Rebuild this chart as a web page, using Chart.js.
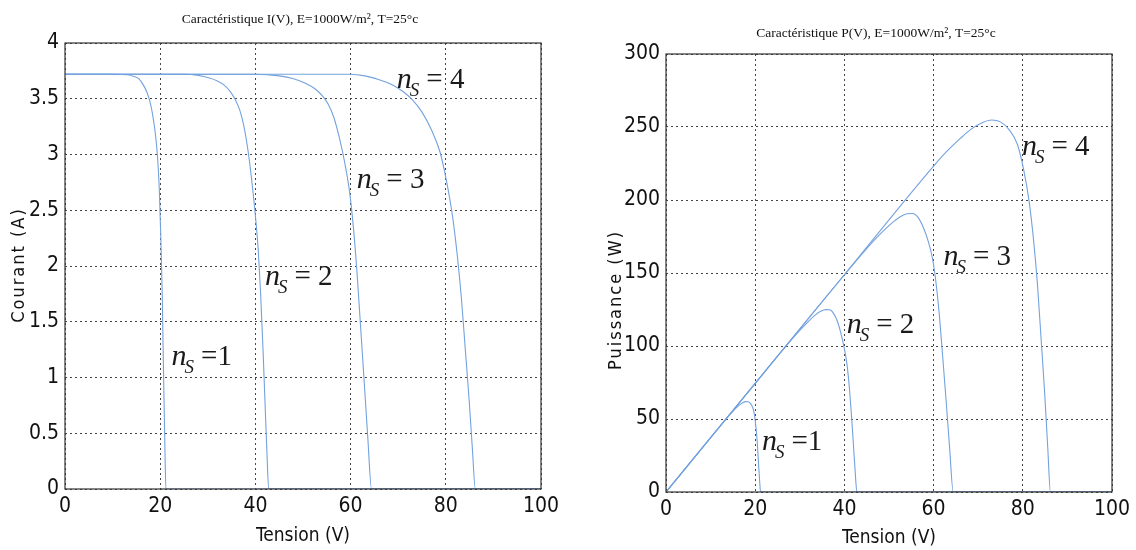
<!DOCTYPE html>
<html>
<head>
<meta charset="utf-8">
<script src="https://cdn.jsdelivr.net/npm/chart.js@4.4.1/dist/chart.umd.min.js"></script>
<style>
  html, body { margin: 0; padding: 0; background: #fff; }
  .panneau { position: absolute; top: 0; width: 568px; height: 550px; }
  #panneauIV { left: 0; }
  #panneauPV { left: 568px; }
</style>
</head>
<body>
<div class="panneau" id="panneauIV"><canvas id="courbeIV" width="568" height="550"></canvas></div>
<div class="panneau" id="panneauPV"><canvas id="courbePV" width="568" height="550"></canvas></div>
<script>
// I(V) : [tension (V), courant (A)] pour 1 à 4 panneaux en série
const ivNs1 = [[0, 3.72], [10, 3.72], [13, 3.715], [14.5, 3.70], [15.5, 3.68], [16.5, 3.62], [17.2, 3.56], [17.8, 3.48], [18.4, 3.36], [19, 3.18], [19.4, 3.0], [19.8, 2.7], [20.1, 2.3], [20.4, 1.8], [20.6, 1.3], [20.8, 0.8], [21, 0.35], [21.2, 0], [100, 0]];
const ivNs2 = [[0, 3.72], [25, 3.72], [28, 3.71], [30, 3.69], [32, 3.66], [33.5, 3.62], [34.8, 3.56], [35.8, 3.49], [36.7, 3.40], [37.6, 3.25], [38.5, 3.02], [39.3, 2.74], [40, 2.45], [40.6, 2.14], [41.1, 1.75], [41.6, 1.25], [42, 0.8], [42.4, 0.35], [42.8, 0], [100, 0]];
const ivNs3 = [[0, 3.72], [40, 3.72], [45, 3.705], [48, 3.68], [50.5, 3.64], [52.5, 3.59], [54, 3.53], [55.3, 3.45], [56.5, 3.33], [57.7, 3.14], [58.8, 2.92], [59.8, 2.66], [60.6, 2.34], [61.3, 1.97], [62, 1.52], [62.8, 1.0], [63.6, 0.47], [64.4, 0], [100, 0]];
const ivNs4 = [[0, 3.72], [60, 3.72], [63, 3.705], [66, 3.67], [68.5, 3.63], [71, 3.565], [73, 3.49], [75, 3.38], [77, 3.22], [78.8, 3.02], [80.2, 2.75], [81.4, 2.45], [82.4, 2.1], [83.3, 1.7], [84.1, 1.25], [84.9, 0.8], [85.6, 0.35], [86.2, 0], [100, 0]];

// P(V) : [tension (V), puissance (W)]
const pvNs1 = [[0, 0], [10, 37.2], [13, 48.3], [14.5, 53.7], [15.5, 57], [16.5, 59.7], [17.2, 61.2], [17.8, 61.9], [18.4, 61.8], [19, 60.4], [19.4, 58.2], [19.8, 53.5], [20.1, 46.2], [20.4, 36.7], [20.6, 26.8], [20.8, 16.6], [21, 7.4], [21.2, 0], [100, 0]];
const pvNs2 = [[0, 0], [20, 74.4], [25, 93], [28, 103.9], [30, 110.7], [32, 117.1], [33.5, 121.3], [34.8, 123.9], [35.8, 124.9], [36.7, 124.8], [37.6, 122.2], [38.5, 116.3], [39.3, 107.7], [40, 98], [40.6, 86.9], [41.1, 71.9], [41.6, 52], [42, 33.6], [42.4, 14.8], [42.8, 0], [100, 0]];
const pvNs3 = [[0, 0], [20, 74.4], [40, 148.8], [45, 166.7], [48, 176.6], [50.5, 183.8], [52.5, 188.5], [54, 190.6], [55.3, 190.8], [56.5, 188.1], [57.7, 181.2], [58.8, 171.7], [59.8, 159.1], [60.6, 141.8], [61.3, 120.8], [62, 94.2], [62.8, 62.8], [63.6, 29.9], [64.4, 0], [100, 0]];
const pvNs4 = [[0, 0], [20, 74.4], [40, 148.8], [60, 223.2], [63, 233.4], [66, 242.2], [68.5, 248.7], [71, 253.1], [73, 254.8], [75, 253.5], [77, 247.9], [78.8, 238], [80.2, 220.6], [81.4, 199.4], [82.4, 173], [83.3, 141.6], [84.1, 105], [84.9, 68], [85.6, 30], [86.2, 0], [100, 0]];

// position des étiquettes n_S (coin bas-gauche du "n", en coordonnées des axes)
const etiquettesIV = [
  { x: 69.7, y: 3.6, texte: '= 4' },
  { x: 61.3, y: 2.70, texte: '= 3' },
  { x: 42.0, y: 1.83, texte: '= 2' },
  { x: 22.4, y: 1.11, texte: '=1' }
];
const etiquettesPV = [
  { x: 79.8, y: 230.8, texte: '= 4' },
  { x: 62.2, y: 155.5, texte: '= 3' },
  { x: 40.5, y: 108.7, texte: '= 2' },
  { x: 21.5, y: 28.8, texte: '=1' }
];

const xTicks = [0, 20, 40, 60, 80, 100];
const bleu = '#74a2de';
const policeTicks = '"Liberation Sans Narrow", "DejaVu Sans Condensed", Arial, sans-serif';
const policeSerif = '"Liberation Serif", "Times New Roman", serif';

const toPoints = arr => arr.map(([x, y]) => ({ x, y }));

// cadre plein + titre + titre de l'axe Y + étiquettes n_S
const decor = {
  id: 'decor',
  afterDatasetsDraw(chart, args, opts) {
    const { ctx, scales: { x, y } } = chart;
    ctx.save();
    ctx.fillStyle = '#1a1a1a';
    opts.etiquettes.forEach(it => {
      let px = x.getPixelForValue(it.x);
      const py = y.getPixelForValue(it.y);
      ctx.textAlign = 'left';
      ctx.textBaseline = 'alphabetic';
      ctx.font = 'italic 30px ' + policeSerif;
      ctx.fillText('n', px, py);
      px += ctx.measureText('n').width - 2;
      ctx.font = 'italic 19px ' + policeSerif;
      ctx.fillText('S', px, py + 8);
      px += ctx.measureText('S').width + 7;
      ctx.font = '29px ' + policeSerif;
      ctx.fillText(it.texte, px, py);
    });
    ctx.restore();
  },
  afterDraw(chart, args, opts) {
    const { ctx, chartArea: a } = chart;
    ctx.save();
    ctx.strokeStyle = '#333';
    ctx.lineWidth = 1.2;
    ctx.strokeRect(a.left, a.top, a.right - a.left, a.bottom - a.top);

    ctx.fillStyle = '#111';
    ctx.textAlign = 'center';
    ctx.textBaseline = 'middle';
    ctx.font = '13.5px ' + policeSerif;
    ctx.fillText(opts.titre, opts.titreX, opts.titreY);

    ctx.translate(opts.axeYX, opts.axeYY);
    ctx.rotate(-Math.PI / 2);
    ctx.letterSpacing = '2px';
    ctx.font = '18px ' + policeTicks;
    ctx.fillText(opts.axeY, 0, 0);
    ctx.restore();
  }
};

function makeChart(id, series, cfg) {
  const ctx = document.getElementById(id).getContext('2d');
  return new Chart(ctx, {
    type: 'line',
    data: {
      datasets: series.map(s => ({
        data: toPoints(s),
        borderColor: bleu,
        borderWidth: 1.1,
        pointRadius: 0,
        fill: false,
        cubicInterpolationMode: 'monotone'
      }))
    },
    options: {
      responsive: false,
      animation: false,
      layout: { padding: { top: cfg.top, right: cfg.right, left: 0, bottom: 0 } },
      scales: {
        x: {
          type: 'linear',
          min: 0,
          max: 100,
          afterFit: s => { s.height = cfg.xHeight; },
          afterBuildTicks: s => { s.ticks = xTicks.map(v => ({ value: v })); },
          ticks: { color: '#111', padding: 5, font: { family: policeTicks, size: 21 } },
          grid: { color: '#444', lineWidth: 1, drawTicks: false },
          border: { display: false, dash: [2, 3] },
          title: {
            display: true,
            text: 'Tension (V)',
            color: '#111',
            padding: cfg.xTitlePad,
            font: { family: policeTicks, size: 19 }
          }
        },
        y: {
          min: 0,
          max: cfg.yMax,
          afterFit: s => { s.width = cfg.yWidth; },
          ticks: {
            stepSize: cfg.yStep,
            color: '#111',
            padding: 6,
            font: { family: policeTicks, size: 21 },
            callback: v => String(v)
          },
          grid: { color: '#444', lineWidth: 1, drawTicks: false },
          border: { display: false, dash: [2, 3] }
        }
      },
      plugins: {
        legend: { display: false },
        tooltip: { enabled: false },
        decor: cfg.decor
      }
    },
    plugins: [decor]
  });
}

makeChart('courbeIV', [ivNs1, ivNs2, ivNs3, ivNs4], {
  top: 43, right: 27, xHeight: 61, yWidth: 65, yMax: 4, yStep: 0.5, xTitlePad: 3,
  decor: {
    etiquettes: etiquettesIV,
    titre: 'Caractéristique I(V), E=1000W/m², T=25°c',
    titreX: 300, titreY: 19,
    axeY: 'Courant (A)', axeYX: 19, axeYY: 265
  }
});

makeChart('courbePV', [pvNs1, pvNs2, pvNs3, pvNs4], {
  top: 54, right: 24, xHeight: 58, yWidth: 98, yMax: 300, yStep: 50, xTitlePad: 1,
  decor: {
    etiquettes: etiquettesPV,
    titre: 'Caractéristique P(V), E=1000W/m², T=25°c',
    titreX: 308, titreY: 33,
    axeY: 'Puissance (W)', axeYX: 48, axeYY: 300
  }
});
</script>
</body>
</html>
